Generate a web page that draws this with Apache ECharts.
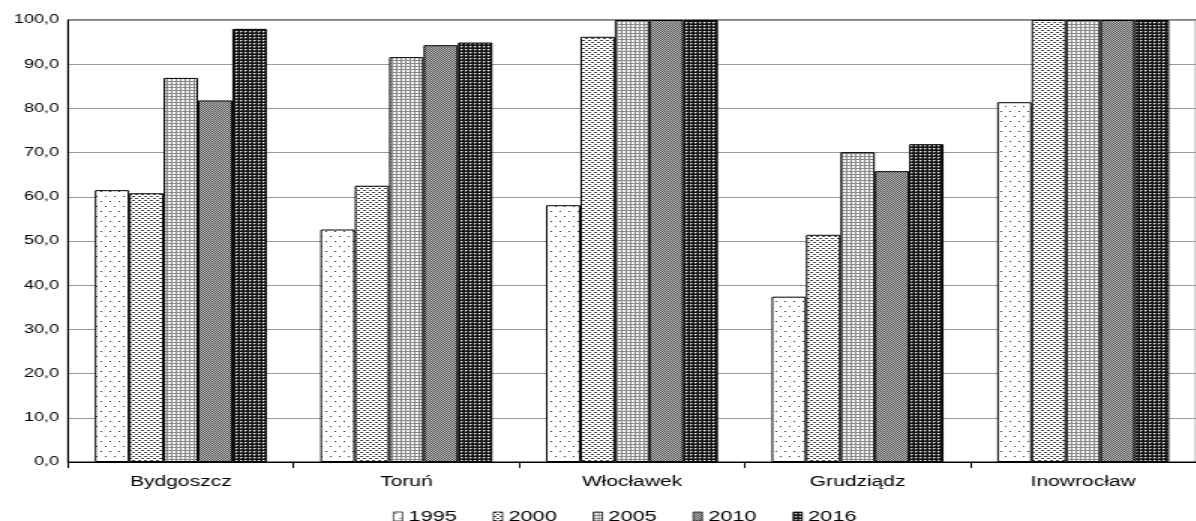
<!DOCTYPE html>
<html>
<head>
<meta charset="utf-8">
<script src="https://cdn.jsdelivr.net/npm/echarts@6/dist/echarts.min.js"></script>
<style>
  html, body { margin: 0; padding: 0; background: #fff; overflow: hidden; }
  #wrap { width: 1196px; height: 521px; overflow: hidden; position: relative; }
  /* the chart is laid out narrow and stretched horizontally */
  #chart { width: 797.33px; height: 521px; transform: scaleX(1.5); transform-origin: 0 0; }
</style>
</head>
<body>
<div id="wrap"><div id="chart"></div></div>
<script>
// Cities and survey years
const cities = ['Bydgoszcz', 'Toruń', 'Włocławek', 'Grudziądz', 'Inowrocław'];
const years = ['1995', '2000', '2005', '2010', '2016'];

// Share per city, one array per year [%]
const v1995 = [61.5, 52.6, 58.1, 37.4, 81.4];
const v2000 = [60.8, 62.5, 96.2, 51.4, 100.0];
const v2005 = [86.9, 91.6, 100.0, 70.1, 100.0];
const v2010 = [81.8, 94.3, 100.0, 65.8, 100.0];
const v2016 = [98.0, 94.9, 100.0, 71.9, 100.0];
const seriesValues = [v1995, v2000, v2005, v2010, v2016];

// Y axis: 0,0 ... 100,0
const yMin = 0, yMax = 100, yStep = 10;

// Monochrome hatch fills, one per year
function tile(w, h, bg, paint) {
  const c = document.createElement('canvas');
  c.width = w; c.height = h;
  const g = c.getContext('2d');
  g.fillStyle = bg; g.fillRect(0, 0, w, h);
  paint(g);
  return { image: c, repeat: 'repeat' };
}
function px(g, col, pts) {
  g.fillStyle = col;
  pts.forEach(p => g.fillRect(p[0], p[1], 1, 1));
}
const fills = [
  tile(6, 10, '#ffffff', g => px(g, '#333', [[1, 1], [4, 6]])),
  tile(4, 4, '#ffffff', g => px(g, '#444', [[0, 0], [2, 2], [1, 0], [3, 2]])),
  tile(3, 3, '#f6f6f6', g => px(g, '#8a8a8a', [[0, 0], [0, 1], [1, 0], [2, 0], [0, 2]])),
  tile(2, 2, '#c0c0c0', g => px(g, '#505050', [[0, 0], [1, 1]])),
  tile(3, 3, '#151515', g => { px(g, '#f0f0f0', [[1, 1]]); px(g, '#7a7a7a', [[1, 2], [2, 1]]); })
];

const chart = echarts.init(document.getElementById('chart'), null, { renderer: 'canvas', width: 797.33, height: 521 });

const font = 'Arial, "Liberation Sans", sans-serif';

chart.setOption({
  animation: false,
  backgroundColor: '#fff',
  grid: {
    left: 45.33, top: 20, width: 756.67, height: 442,
    show: true, borderColor: '#000', borderWidth: 1, backgroundColor: 'transparent'
  },
  legend: {
    data: years,
    left: 257, top: 504,
    itemWidth: 6, itemHeight: 9, itemGap: 24,
    icon: 'rect',
    textStyle: { fontFamily: font, fontSize: 14.5, color: '#000', padding: [0, 0, 0, -1] },
    itemStyle: { borderColor: '#000', borderWidth: 0.7 }
  },
  xAxis: {
    type: 'category',
    data: cities,
    axisLine: { lineStyle: { color: '#000', width: 1 } },
    axisTick: { show: true, length: 6, lineStyle: { color: '#000' } },
    axisLabel: { fontFamily: font, fontSize: 14, color: '#000', margin: 13 }
  },
  yAxis: {
    type: 'value',
    min: yMin, max: yMax, interval: yStep,
    axisLine: { show: true, lineStyle: { color: '#000', width: 1 } },
    axisTick: { show: false },
    axisLabel: {
      fontFamily: font, fontSize: 12, color: '#000', margin: 6,
      formatter: v => v.toFixed(1).replace('.', ',')
    },
    splitLine: { lineStyle: { color: '#9a9a9a', width: 1 } }
  },
  series: years.map((y, i) => ({
    name: y,
    type: 'bar',
    data: seriesValues[i],
    barGap: '0%',
    barCategoryGap: '23.8%',
    itemStyle: { color: fills[i], borderColor: '#000', borderWidth: 1 }
  }))
});
</script>
</body>
</html>
